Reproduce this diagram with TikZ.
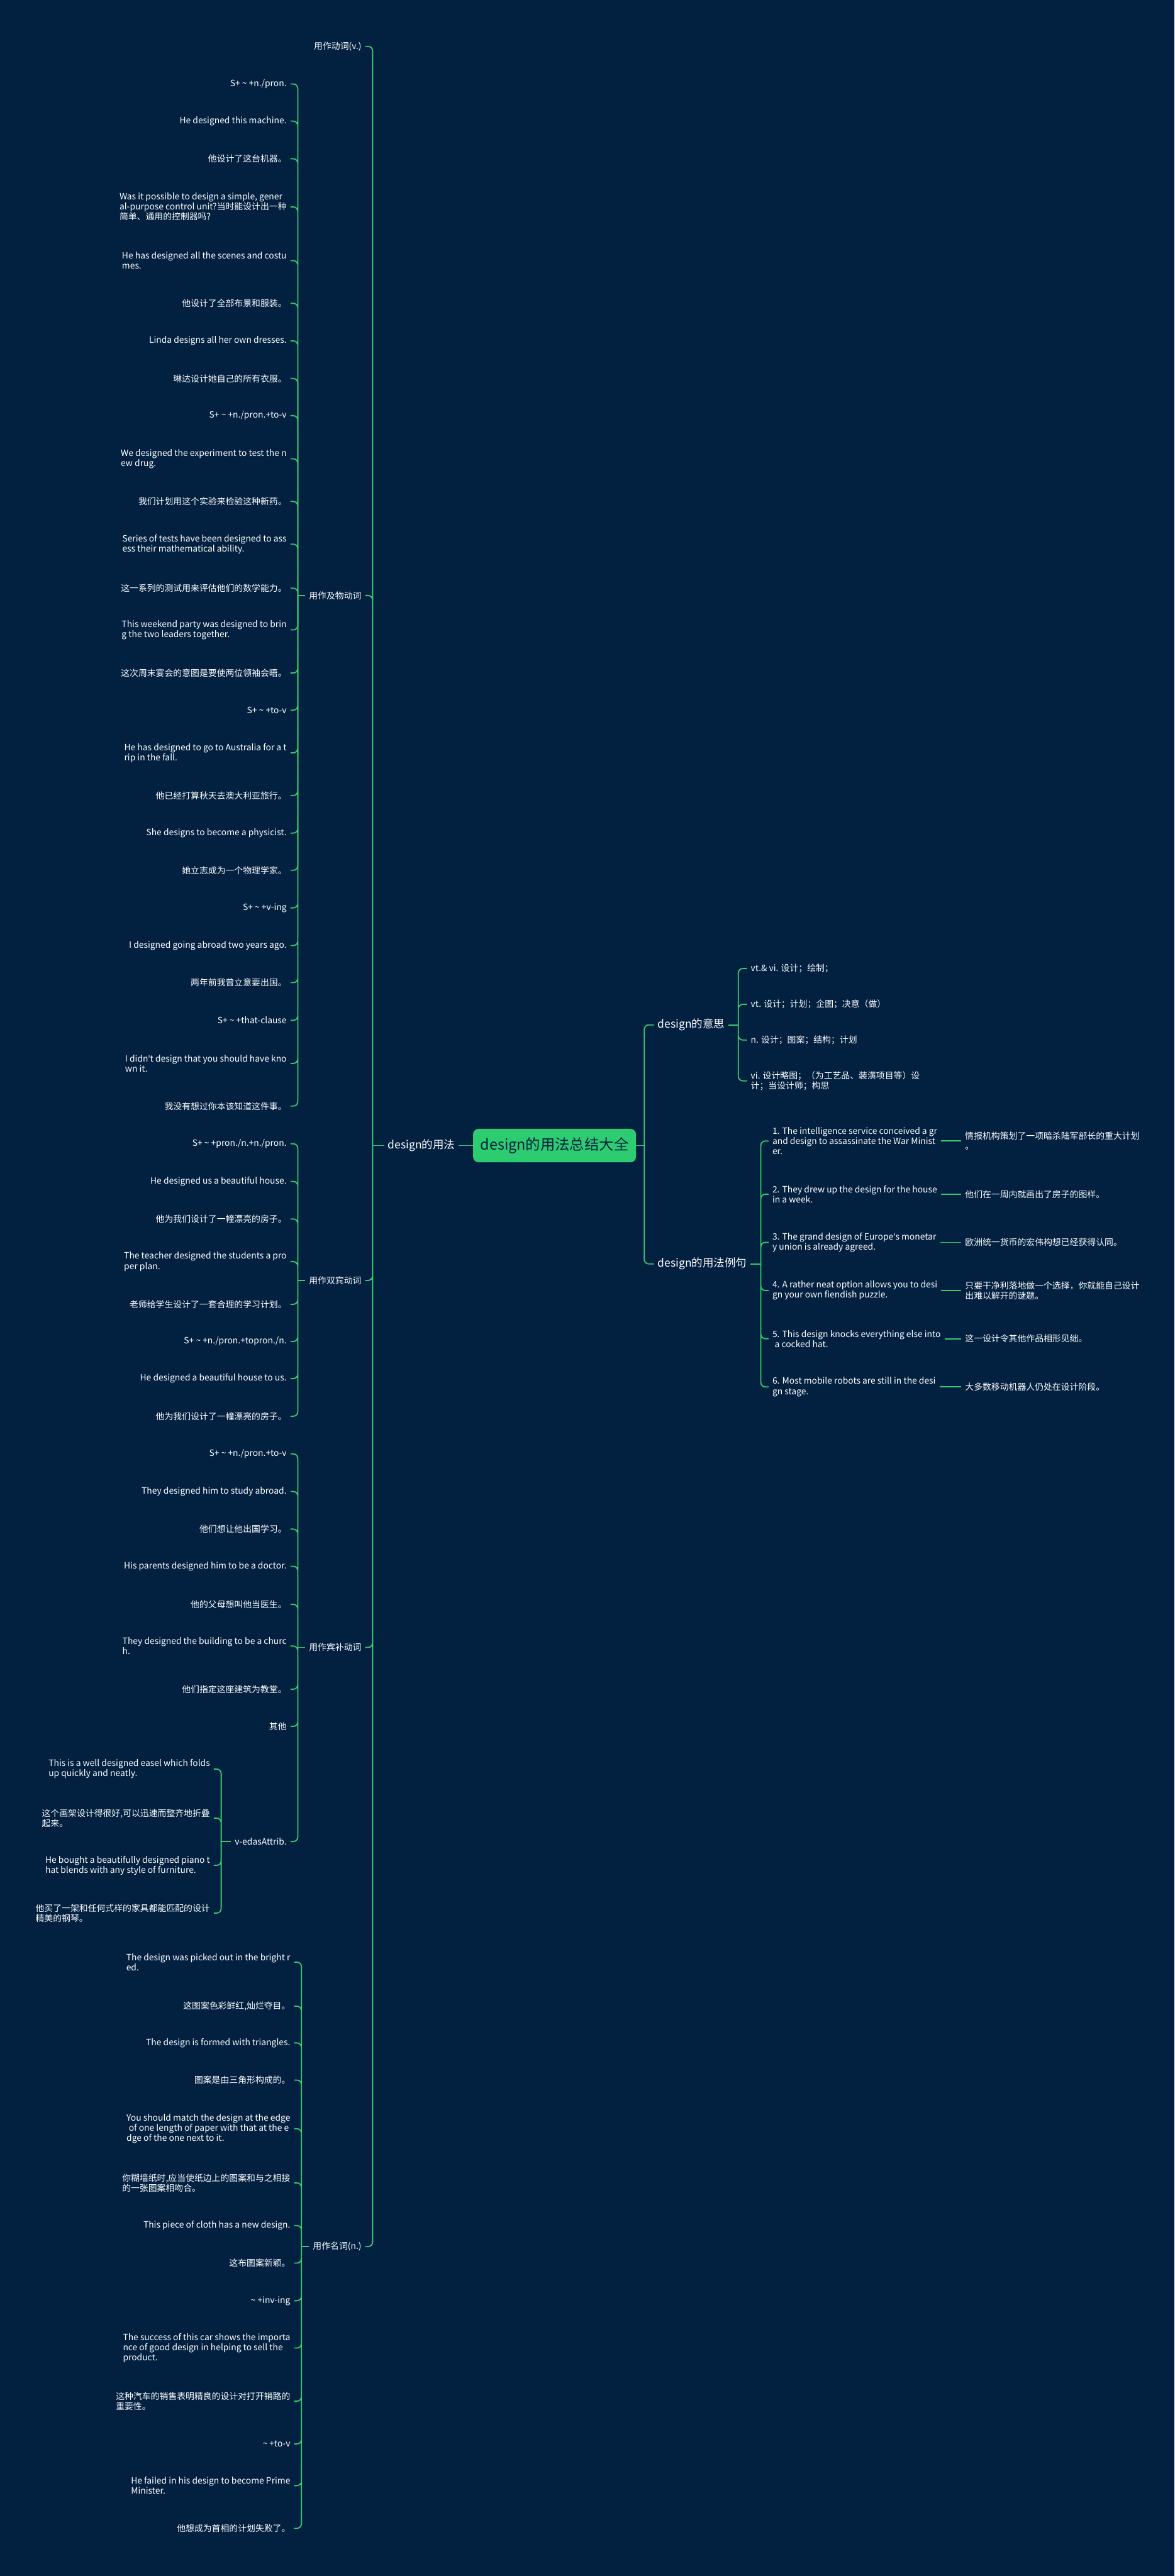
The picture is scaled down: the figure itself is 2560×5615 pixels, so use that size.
\documentclass[tikz,border=0pt]{standalone}
\usepackage{fontspec}
\setmainfont{Noto Sans CJK SC}
\newfontfamily\latinfont{Noto Sans}
\usepackage{xcolor}
\definecolor{navy}{HTML}{022141}
\definecolor{linkgreen}{HTML}{3CC76E}
\definecolor{rootgreen}{HTML}{2ECC71}
\tikzstyle{root} = [rectangle, rounded corners=6pt, fill=rootgreen, text=navy, minimum width=177.5pt, minimum height=36.5pt, font=\fontsize{16}{18}\selectfont]
\tikzstyle{branch} = [text=white, inner xsep=4pt, font=\fontsize{12}{14}\selectfont]
\tikzstyle{leaf} = [text=white, align=left, inner xsep=4pt, inner ysep=1pt, font=\fontsize{9.5}{11}\selectfont]
\tikzstyle{link} = [draw=linkgreen, line width=1.25pt, rounded corners=5pt]
\newcommand{\swung}{\textasciitilde{}}
\newcommand{\apos}{{\latinfont'}}

\begin{document}
\begin{tikzpicture}[x=0.5pt, y=-0.5pt]
    \useasboundingbox (0,0) rectangle (2560,5615);
    \fill [navy] (0,0) rectangle (2560,5615);

    % centre and the two main branches
    \node (root) [root] at (1208.5,2497) {design的用法总结大全};
    \node (usage) [branch, anchor=east] at (1000,2497) {design的用法};
    \node (meaning) [branch, anchor=west] at (1425,2234) {design的意思};
    \node (examples) [branch, anchor=west] at (1425,2755) {design的用法例句};
    \coordinate (lj) at (812,2497);
    \coordinate (rj) at (1404,2497);
    \coordinate (mj) at (1609,2234);
    \coordinate (ej) at (1658,2755);

    % usage groups
    \node (v) [leaf, anchor=east] at (796,101) {用作动词(v.)};
    \node (vt) [leaf, anchor=east] at (796,1298) {用作及物动词};
    \node (vdo) [leaf, anchor=east] at (796,2791) {用作双宾动词};
    \node (voc) [leaf, anchor=east] at (796,3591) {用作宾补动词};
    \node (noun) [leaf, anchor=east] at (796,4897) {用作名词(n.)};
    \coordinate (vtj) at (649,1298);
    \coordinate (vdoj) at (649,2791);
    \coordinate (vocj) at (649,3591);
    \coordinate (nounj) at (657,4897);
    \coordinate (attj) at (482,4014);

    % transitive
    \node (t1) [leaf, anchor=east] at (633,183) {S+ \swung\ +n./pron.};
    \node (t2) [leaf, anchor=east] at (633,264) {He designed this machine.};
    \node (t3) [leaf, anchor=east] at (633,346) {他设计了这台机器。};
    \node (t4) [leaf, anchor=east] at (633,451) {Was it possible to design a simple, gener\\al-purpose control unit?当时能设计出一种\\简单、通用的控制器吗?};
    \node (t5) [leaf, anchor=east] at (633,568) {He has designed all the scenes and costu\\mes.};
    \node (t6) [leaf, anchor=east] at (633,661) {他设计了全部布景和服装。};
    \node (t7) [leaf, anchor=east] at (633,743) {Linda designs all her own dresses.};
    \node (t8) [leaf, anchor=east] at (633,825) {琳达设计她自己的所有衣服。};
    \node (t9) [leaf, anchor=east] at (633,906) {S+ \swung\ +n./pron.+to-v};
    \node (t10) [leaf, anchor=east] at (633,1000) {We designed the experiment to test the n\\ew drug.};
    \node (t11) [leaf, anchor=east] at (633,1093) {我们计划用这个实验来检验这种新药。};
    \node (t12) [leaf, anchor=east] at (633,1186) {Series of tests have been designed to ass\\ess their mathematical ability.};
    \node (t13) [leaf, anchor=east] at (633,1282) {这一系列的测试用来评估他们的数学能力。};
    \node (t14) [leaf, anchor=east] at (633,1373) {This weekend party was designed to brin\\g the two leaders together.};
    \node (t15) [leaf, anchor=east] at (633,1467) {这次周末宴会的意图是要使两位领袖会晤。};
    \node (t16) [leaf, anchor=east] at (633,1548) {S+ \swung\ +to-v};
    \node (t17) [leaf, anchor=east] at (633,1641) {He has designed to go to Australia for a t\\rip in the fall.};
    \node (t18) [leaf, anchor=east] at (633,1734) {他已经打算秋天去澳大利亚旅行。};
    \node (t19) [leaf, anchor=east] at (633,1816) {She designs to become a physicist.};
    \node (t20) [leaf, anchor=east] at (633,1897) {她立志成为一个物理学家。};
    \node (t21) [leaf, anchor=east] at (633,1979) {S+ \swung\ +v-ing};
    \node (t22) [leaf, anchor=east] at (633,2061) {I designed going abroad two years ago.};
    \node (t23) [leaf, anchor=east] at (633,2142) {两年前我曾立意要出国。};
    \node (t24) [leaf, anchor=east] at (633,2224) {S+ \swung\ +that-clause};
    \node (t25) [leaf, anchor=east] at (633,2318) {I didn\apos t design that you should have kno\\wn it.};
    \node (t26) [leaf, anchor=east] at (633,2411) {我没有想过你本该知道这件事。};

    % double object
    \node (d1) [leaf, anchor=east] at (633,2493) {S+ \swung\ +pron./n.+n./pron.};
    \node (d2) [leaf, anchor=east] at (633,2575) {He designed us a beautiful house.};
    \node (d3) [leaf, anchor=east] at (633,2657) {他为我们设计了一幢漂亮的房子。};
    \node (d4) [leaf, anchor=east] at (633,2750) {The teacher designed the students a pro\\per plan.};
    \node (d5) [leaf, anchor=east] at (633,2843) {老师给学生设计了一套合理的学习计划。};
    \node (d6) [leaf, anchor=east] at (633,2924) {S+ \swung\ +n./pron.+topron./n.};
    \node (d7) [leaf, anchor=east] at (633,3005) {He designed a beautiful house to us.};
    \node (d8) [leaf, anchor=east] at (633,3087) {他为我们设计了一幢漂亮的房子。};

    % object complement
    \node (c1) [leaf, anchor=east] at (633,3169) {S+ \swung\ +n./pron.+to-v};
    \node (c2) [leaf, anchor=east] at (633,3251) {They designed him to study abroad.};
    \node (c3) [leaf, anchor=east] at (633,3333) {他们想让他出国学习。};
    \node (c4) [leaf, anchor=east] at (633,3414) {His parents designed him to be a doctor.};
    \node (c5) [leaf, anchor=east] at (633,3497) {他的父母想叫他当医生。};
    \node (c6) [leaf, anchor=east] at (633,3588) {They designed the building to be a churc\\h.};
    \node (c7) [leaf, anchor=east] at (633,3682) {他们指定这座建筑为教堂。};
    \node (c8) [leaf, anchor=east] at (633,3763) {其他};
    \node (c9) [leaf, anchor=east] at (633,4014) {v-edasAttrib.};
    \node (a1) [leaf, anchor=east] at (466,3856) {This is a well designed easel which folds\\up quickly and neatly.};
    \node (a2) [leaf, anchor=east] at (466,3963) {这个画架设计得很好,可以迅速而整齐地折叠\\起来。};
    \node (a3) [leaf, anchor=east] at (466,4066) {He bought a beautifully designed piano t\\hat blends with any style of furniture.};
    \node (a4) [leaf, anchor=east] at (466,4170) {他买了一架和任何式样的家具都能匹配的设计\\精美的钢琴。};

    % noun
    \node (n1) [leaf, anchor=east] at (641,4277) {The design was picked out in the bright r\\ed.};
    \node (n2) [leaf, anchor=east] at (641,4373) {这图案色彩鲜红,灿烂夺目。};
    \node (n3) [leaf, anchor=east] at (641,4453) {The design is formed with triangles.};
    \node (n4) [leaf, anchor=east] at (641,4534) {图案是由三角形构成的。};
    \node (n5) [leaf, anchor=east] at (641,4640) {You should match the design at the edge\\\hspace*{2.5pt}of one length of paper with that at the e\\dge of the one next to it.};
    \node (n6) [leaf, anchor=east] at (641,4758) {你糊墙纸时,应当使纸边上的图案和与之相接\\的一张图案相吻合。};
    \node (n7) [leaf, anchor=east] at (641,4851) {This piece of cloth has a new design.};
    \node (n8) [leaf, anchor=east] at (641,4933) {这布图案新颖。};
    \node (n9) [leaf, anchor=east] at (641,5015) {\swung\ +inv-ing};
    \node (n10) [leaf, anchor=east] at (641,5118) {The success of this car shows the importa\\nce of good design in helping to sell the\\product.};
    \node (n11) [leaf, anchor=east] at (641,5234) {这种汽车的销售表明精良的设计对打开销路的\\重要性。};
    \node (n12) [leaf, anchor=east] at (641,5327) {\swung\ +to-v};
    \node (n13) [leaf, anchor=east] at (641,5418) {He failed in his design to become Prime\\Minister.};
    \node (n14) [leaf, anchor=east] at (641,5511) {他想成为首相的计划失败了。};

    % meanings
    \node (m1) [leaf, anchor=west] at (1628,2111) {vt.\& vi. 设计；绘制；};
    \node (m2) [leaf, anchor=west] at (1628,2189) {vt. 设计；计划；企图；决意（做）};
    \node (m3) [leaf, anchor=west] at (1628,2267) {n. 设计；图案；结构；计划};
    \node (m4) [leaf, anchor=west] at (1628,2356) {vi. 设计略图；（为工艺品、装潢项目等）设\\计；当设计师；构思};

    % example sentences
    \node (e1) [leaf, anchor=west] at (1675,2487) {1. The intelligence service conceived a gr\\and design to assassinate the War Minist\\er.};
    \node (e2) [leaf, anchor=west] at (1675,2603) {2. They drew up the design for the house\\in a week.};
    \node (e3) [leaf, anchor=west] at (1675,2708) {3. The grand design of Europe\apos s monetar\\y union is already agreed.};
    \node (e4) [leaf, anchor=west] at (1675,2813) {4. A rather neat option allows you to desi\\gn your own fiendish puzzle.};
    \node (e5) [leaf, anchor=west] at (1675,2918) {5. This design knocks everything else into\\\hspace*{2.5pt}a cocked hat.};
    \node (e6) [leaf, anchor=west] at (1675,3023) {6. Most mobile robots are still in the desi\\gn stage.};
    \node (z1) [leaf, anchor=west] at (2095,2487) {情报机构策划了一项暗杀陆军部长的重大计划\\。};
    \node (z2) [leaf, anchor=west] at (2095,2603) {他们在一周内就画出了房子的图样。};
    \node (z3) [leaf, anchor=west] at (2095,2708) {欧洲统一货币的宏伟构想已经获得认同。};
    \node (z4) [leaf, anchor=west] at (2095,2813) {只要干净利落地做一个选择，你就能自己设计\\出难以解开的谜题。};
    \node (z5) [leaf, anchor=west] at (2095,2918) {这一设计令其他作品相形见绌。};
    \node (z6) [leaf, anchor=west] at (2095,3023) {大多数移动机器人仍处在设计阶段。};

    % connectors
    \draw [link] (root.west) -- (usage.east);
    \draw [link] (usage.west) -- (lj);
    \draw [link] (lj) |- (v.east) (lj) |- (vt.east) (lj) |- (vdo.east) (lj) |- (voc.east) (lj) |- (noun.east);
    \draw [link] (root.east) -- (rj);
    \draw [link] (rj) |- (meaning.west) (rj) |- (examples.west);
    \draw [link] (meaning.east) -- (mj);
    \draw [link] (mj) |- (m1.west) (mj) |- (m2.west) (mj) |- (m3.west) (mj) |- (m4.west);
    \draw [link] (examples.east) -- (ej);
    \draw [link] (ej) |- (e1.west) (ej) |- (e2.west) (ej) |- (e3.west) (ej) |- (e4.west) (ej) |- (e5.west) (ej) |- (e6.west);
    \draw [link] (e1.east) -- (z1.west);
    \draw [link] (e2.east) -- (z2.west);
    \draw [link] (e3.east) -- (z3.west);
    \draw [link] (e4.east) -- (z4.west);
    \draw [link] (e5.east) -- (z5.west);
    \draw [link] (e6.east) -- (z6.west);

    \draw [link] (vt.west) -- (vtj);
    \draw [link] (vtj) |- (t1.east) (vtj) |- (t2.east) (vtj) |- (t3.east) (vtj) |- (t4.east) (vtj) |- (t5.east) (vtj) |- (t6.east) (vtj) |- (t7.east);
    \draw [link] (vtj) |- (t8.east) (vtj) |- (t9.east) (vtj) |- (t10.east) (vtj) |- (t11.east) (vtj) |- (t12.east) (vtj) |- (t13.east) (vtj) |- (t14.east);
    \draw [link] (vtj) |- (t15.east) (vtj) |- (t16.east) (vtj) |- (t17.east) (vtj) |- (t18.east) (vtj) |- (t19.east) (vtj) |- (t20.east);
    \draw [link] (vtj) |- (t21.east) (vtj) |- (t22.east) (vtj) |- (t23.east) (vtj) |- (t24.east) (vtj) |- (t25.east) (vtj) |- (t26.east);

    \draw [link] (vdo.west) -- (vdoj);
    \draw [link] (vdoj) |- (d1.east) (vdoj) |- (d2.east) (vdoj) |- (d3.east) (vdoj) |- (d4.east) (vdoj) |- (d5.east) (vdoj) |- (d6.east) (vdoj) |- (d7.east) (vdoj) |- (d8.east);

    \draw [link] (voc.west) -- (vocj);
    \draw [link] (vocj) |- (c1.east) (vocj) |- (c2.east) (vocj) |- (c3.east) (vocj) |- (c4.east) (vocj) |- (c5.east);
    \draw [link] (vocj) |- (c6.east) (vocj) |- (c7.east) (vocj) |- (c8.east) (vocj) |- (c9.east);
    \draw [link] (c9.west) -- (attj);
    \draw [link] (attj) |- (a1.east) (attj) |- (a2.east) (attj) |- (a3.east) (attj) |- (a4.east);

    \draw [link] (noun.west) -- (nounj);
    \draw [link] (nounj) |- (n1.east) (nounj) |- (n2.east) (nounj) |- (n3.east) (nounj) |- (n4.east) (nounj) |- (n5.east) (nounj) |- (n6.east) (nounj) |- (n7.east);
    \draw [link] (nounj) |- (n8.east) (nounj) |- (n9.east) (nounj) |- (n10.east) (nounj) |- (n11.east) (nounj) |- (n12.east) (nounj) |- (n13.east) (nounj) |- (n14.east);
\end{tikzpicture}
\end{document}
